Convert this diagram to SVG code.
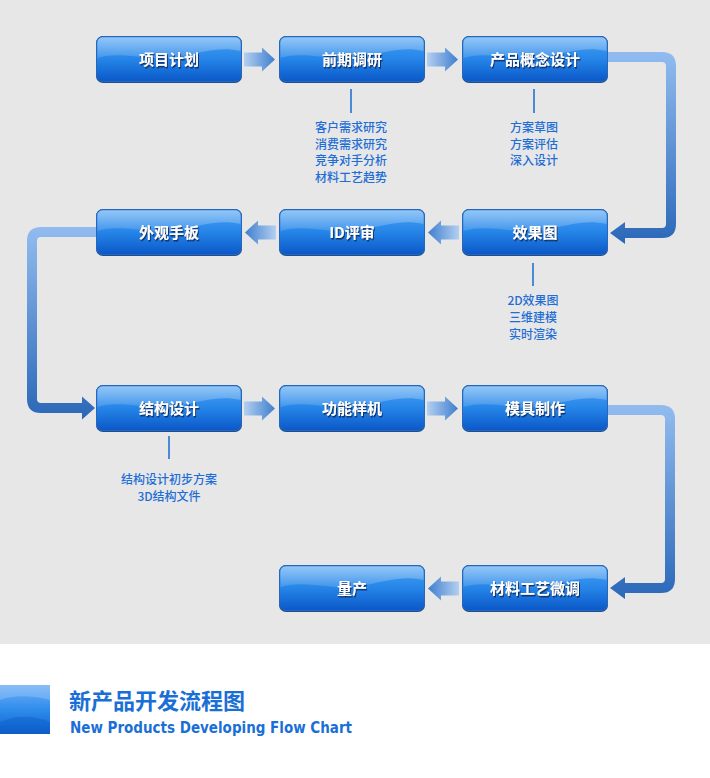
<svg xmlns="http://www.w3.org/2000/svg" width="710" height="778" viewBox="0 0 710 778">
<defs>
<linearGradient id="nodeG" x1="0" y1="0" x2="0" y2="1">
<stop offset="0" stop-color="#4aa0f2"/>
<stop offset="0.5" stop-color="#2585e8"/>
<stop offset="1" stop-color="#0b58c8"/>
</linearGradient>
<linearGradient id="glossG" x1="0" y1="0" x2="0" y2="1">
<stop offset="0" stop-color="#ffffff" stop-opacity="0.4"/>
<stop offset="1" stop-color="#ffffff" stop-opacity="0.12"/>
</linearGradient>
<linearGradient id="arR" x1="0" y1="0" x2="1" y2="0">
<stop offset="0" stop-color="#b3cff0"/>
<stop offset="1" stop-color="#3f7fcf"/>
</linearGradient>
<linearGradient id="arL" x1="1" y1="0" x2="0" y2="0">
<stop offset="0" stop-color="#b3cff0"/>
<stop offset="1" stop-color="#3f7fcf"/>
</linearGradient>
<linearGradient id="bigG1" gradientUnits="userSpaceOnUse" x1="0" y1="50" x2="0" y2="245">
<stop offset="0" stop-color="#93bdf0"/>
<stop offset="1" stop-color="#2a67b8"/>
</linearGradient>
<linearGradient id="bigG2" gradientUnits="userSpaceOnUse" x1="0" y1="225" x2="0" y2="420">
<stop offset="0" stop-color="#93bdf0"/>
<stop offset="1" stop-color="#2a67b8"/>
</linearGradient>
<linearGradient id="bigG3" gradientUnits="userSpaceOnUse" x1="0" y1="403" x2="0" y2="600">
<stop offset="0" stop-color="#93bdf0"/>
<stop offset="1" stop-color="#2a67b8"/>
</linearGradient>
<linearGradient id="logoG" x1="0" y1="0" x2="0" y2="1">
<stop offset="0" stop-color="#6fb0f7"/>
<stop offset="0.5" stop-color="#2f8cec"/>
<stop offset="1" stop-color="#0f62d0"/>
</linearGradient>
<filter id="sh" x="-10%" y="-30%" width="120%" height="160%">
<feDropShadow dx="1" dy="1.5" stdDeviation="0.6" flood-color="#0a2a5a" flood-opacity="0.9"/>
</filter>
<g id="node">
<rect x="0" y="0" width="146" height="47" rx="7" fill="#1c4f96"/>
<rect x="0.5" y="0.5" width="145" height="45" rx="6.5" fill="url(#nodeG)" stroke="#2a66b8" stroke-width="1"/>
<path d="M7 1.5 H139 Q144.5 1.5 144.5 7 V15 C110 8 90 26 55 22 C35 20 18 17 1.5 22 V7 Q1.5 1.5 7 1.5 Z" fill="url(#glossG)"/>
</g>
</defs>
<style>
.lbl{font-family:"Noto Sans CJK SC","Liberation Sans",sans-serif;font-size:15px;font-weight:bold;fill:#ffffff;text-anchor:middle;filter:url(#sh)}
.sub{font-family:"Noto Sans CJK SC","Liberation Sans",sans-serif;font-size:12px;font-weight:500;fill:#1f6ed6;text-anchor:middle}
.tick{stroke:#4a8ad8;stroke-width:2}
</style>
<rect x="0" y="0" width="710" height="644" fill="#e7e7e7"/>
<rect x="0" y="644" width="710" height="134" fill="#ffffff"/>

<g id="connectors">
<path d="M244 52.5 H262 V47.5 L275 59.5 L262 71.5 V66.5 H244 Z" fill="url(#arR)"/>
<path d="M427 52.5 H445 V47.5 L458 59.5 L445 71.5 V66.5 H427 Z" fill="url(#arR)"/>
<path d="M459 225.5 H441 V220.5 L428 232.5 L441 244.5 V239.5 H459 Z" fill="url(#arL)"/>
<path d="M276 225.5 H258 V220.5 L245 232.5 L258 244.5 V239.5 H276 Z" fill="url(#arL)"/>
<path d="M244 401.5 H262 V396.5 L275 408.5 L262 420.5 V415.5 H244 Z" fill="url(#arR)"/>
<path d="M427 401.5 H445 V396.5 L458 408.5 L445 420.5 V415.5 H427 Z" fill="url(#arR)"/>
<path d="M459 581.5 H441 V576.5 L428 588.5 L441 600.5 V595.5 H459 Z" fill="url(#arL)"/>
<path d="M608 52 H662 Q676 52 676 66 V224 Q676 238 662 238 H625 V244 L610 233 L625 222 V228 H662 Q666 228 666 224 V66 Q666 62 662 62 H608 Z" fill="url(#bigG1)"/>
<path d="M96 227 H41 Q27 227 27 241 V399 Q27 413 41 413 H82 V419.5 L95 408 L82 396.5 V403 H41 Q37 403 37 399 V241 Q37 237 41 237 H96 Z" fill="url(#bigG2)"/>
<path d="M608 405 H661 Q675 405 675 419 V579 Q675 593 661 593 H625 V599 L610 588 L625 577 V583 H661 Q665 583 665 579 V419 Q665 415 661 415 H608 Z" fill="url(#bigG3)"/>
<line class="tick" x1="351" y1="89" x2="351" y2="113"/>
<line class="tick" x1="534" y1="89" x2="534" y2="113"/>
<line class="tick" x1="533" y1="263" x2="533" y2="286"/>
<line class="tick" x1="169" y1="436" x2="169" y2="459"/>
</g>

<g id="n1"><use href="#node" x="96" y="36"/><text class="lbl" x="169" y="65">项目计划</text></g>
<g id="n2"><use href="#node" x="279" y="36"/><text class="lbl" x="352" y="65">前期调研</text></g>
<g id="n3"><use href="#node" x="462" y="36"/><text class="lbl" x="535" y="65">产品概念设计</text></g>
<g id="n4"><use href="#node" x="462" y="209"/><text class="lbl" x="535" y="238">效果图</text></g>
<g id="n5"><use href="#node" x="279" y="209"/><text class="lbl" x="352" y="238">ID评审</text></g>
<g id="n6"><use href="#node" x="96" y="209"/><text class="lbl" x="169" y="238">外观手板</text></g>
<g id="n7"><use href="#node" x="96" y="385"/><text class="lbl" x="169" y="414">结构设计</text></g>
<g id="n8"><use href="#node" x="279" y="385"/><text class="lbl" x="352" y="414">功能样机</text></g>
<g id="n9"><use href="#node" x="462" y="385"/><text class="lbl" x="535" y="414">模具制作</text></g>
<g id="n10"><use href="#node" x="462" y="565"/><text class="lbl" x="535" y="594">材料工艺微调</text></g>
<g id="n11"><use href="#node" x="279" y="565"/><text class="lbl" x="352" y="594">量产</text></g>

<g id="notes">
<text class="sub" x="351" y="131.5">客户需求研究</text>
<text class="sub" x="351" y="148.5">消费需求研究</text>
<text class="sub" x="351" y="165">竞争对手分析</text>
<text class="sub" x="351" y="181.5">材料工艺趋势</text>
<text class="sub" x="534" y="131.5">方案草图</text>
<text class="sub" x="534" y="148.5">方案评估</text>
<text class="sub" x="534" y="165">深入设计</text>
<text class="sub" x="533" y="305">2D效果图</text>
<text class="sub" x="533" y="322">三维建模</text>
<text class="sub" x="533" y="339">实时渲染</text>
<text class="sub" x="169" y="484">结构设计初步方案</text>
<text class="sub" x="169" y="501">3D结构文件</text>
</g>

<g id="title">
<rect x="0" y="685" width="50" height="49" fill="url(#logoG)"/>
<path d="M0 700 C15 694 35 696 50 700 V685 H0 Z" fill="#ffffff" fill-opacity="0.18"/>
<path d="M0 722 C18 714 35 716 50 722 V734 H0 Z" fill="#0a55c0" fill-opacity="0.35"/>
<text x="69" y="709" font-family="'Noto Sans CJK SC',sans-serif" font-size="22" font-weight="bold" fill="#1a6fd6">新产品开发流程图</text>
<text x="70" y="733" font-family="'DejaVu Sans','Liberation Sans',sans-serif" font-size="15" font-weight="bold" fill="#1a6fd6" textLength="282" lengthAdjust="spacingAndGlyphs">New Products Developing Flow Chart</text>
</g>
</svg>
